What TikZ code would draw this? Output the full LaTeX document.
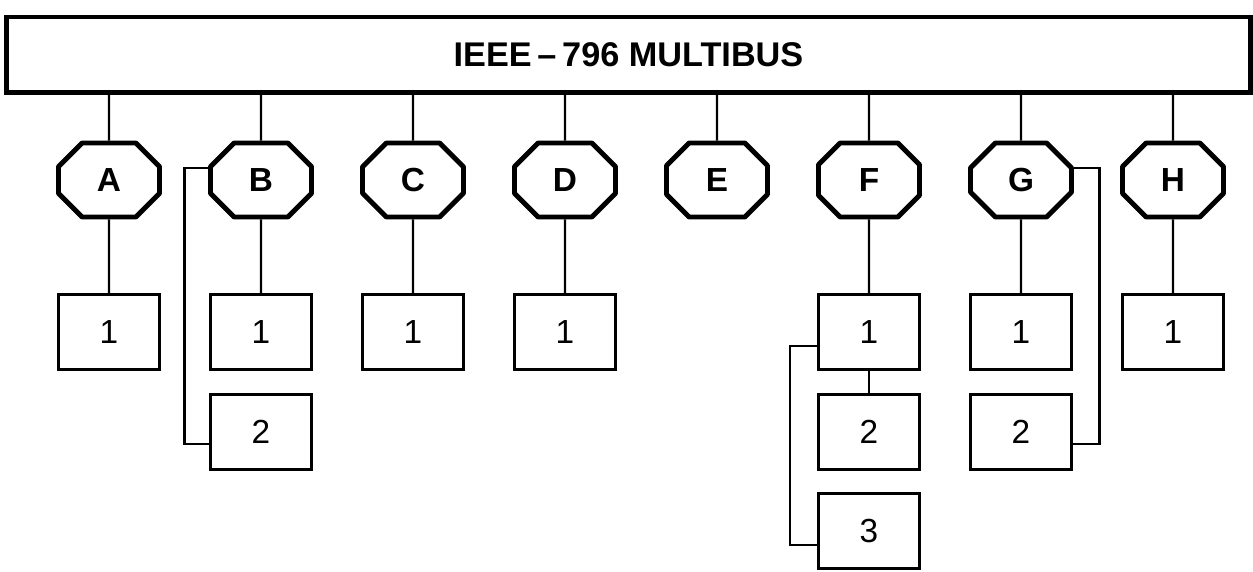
\documentclass[tikz,border=0pt]{standalone}
\usepackage{fontspec}
\setmainfont{Liberation Sans}
\usetikzlibrary{shapes.misc}
\begin{document}
\begin{tikzpicture}[x=0.02cm,y=-0.02cm,
  busbox/.style={draw, line width=2.8pt, rectangle, minimum width=24.88cm, minimum height=1.51cm,
    inner sep=0pt, font=\fontsize{19.5}{22}\selectfont\bfseries},
  octo/.style={draw, line width=2.8pt, line join=round, chamfered rectangle, chamfered rectangle sep=0.33cm,
    minimum width=2.02cm, minimum height=1.48cm, inner sep=0pt, font=\fontsize{19}{22}\selectfont\bfseries},
  unit/.style={draw, line width=1.8pt, rectangle, minimum width=2.02cm, minimum height=1.5cm,
    inner sep=0pt, font=\fontsize{19}{22}\selectfont},
  conn/.style={line width=1.2pt}]
\useasboundingbox (0,0) rectangle (1253,571);
% bus
\node[busbox] (bus) at (628.5,54.75) {IEEE\,\textendash\,796 MULTIBUS};
% controllers
\node[octo] (A) at (109,180) {A};
\node[octo] (B) at (261,180) {B};
\node[octo] (C) at (413,180) {C};
\node[octo] (D) at (565,180) {D};
\node[octo] (E) at (717,180) {E};
\node[octo] (F) at (869,180) {F};
\node[octo] (G) at (1021,180) {G};
\node[octo] (H) at (1173,180) {H};
% units
\node[unit] (A1) at (109,332) {1};
\node[unit] (B1) at (261,332) {1};
\node[unit] (B2) at (261,432) {2};
\node[unit] (C1) at (413,332) {1};
\node[unit] (D1) at (565,332) {1};
\node[unit] (F1) at (869,332) {1};
\node[unit] (F2) at (869,432) {2};
\node[unit] (F3) at (869,531) {3};
\node[unit] (G1) at (1021,332) {1};
\node[unit] (G2) at (1021,432) {2};
\node[unit] (H1) at (1173,332) {1};
% bus drops
\foreach \n in {A,B,C,D,E,F,G,H}
  \draw[conn] (bus.south -| \n) -- (\n);
% controller to first unit
\foreach \n in {A,B,C,D,F,G,H}
  \draw[conn] (\n) -- (\n1);
\draw[conn] (F1) -- (F2);
% side brackets
\coordinate (bB) at (184.5,444);
\coordinate (fB) at (790,545);
\coordinate (gB) at (1099.5,444);
\draw[conn] (B.167) -| (bB) -- (bB -| B2.west);
\draw[conn] (F1.195.5) -| (fB) -- (fB -| F3.west);
\draw[conn] (G.13) -| (gB) -- (gB -| G2.east);
\end{tikzpicture}
\end{document}
